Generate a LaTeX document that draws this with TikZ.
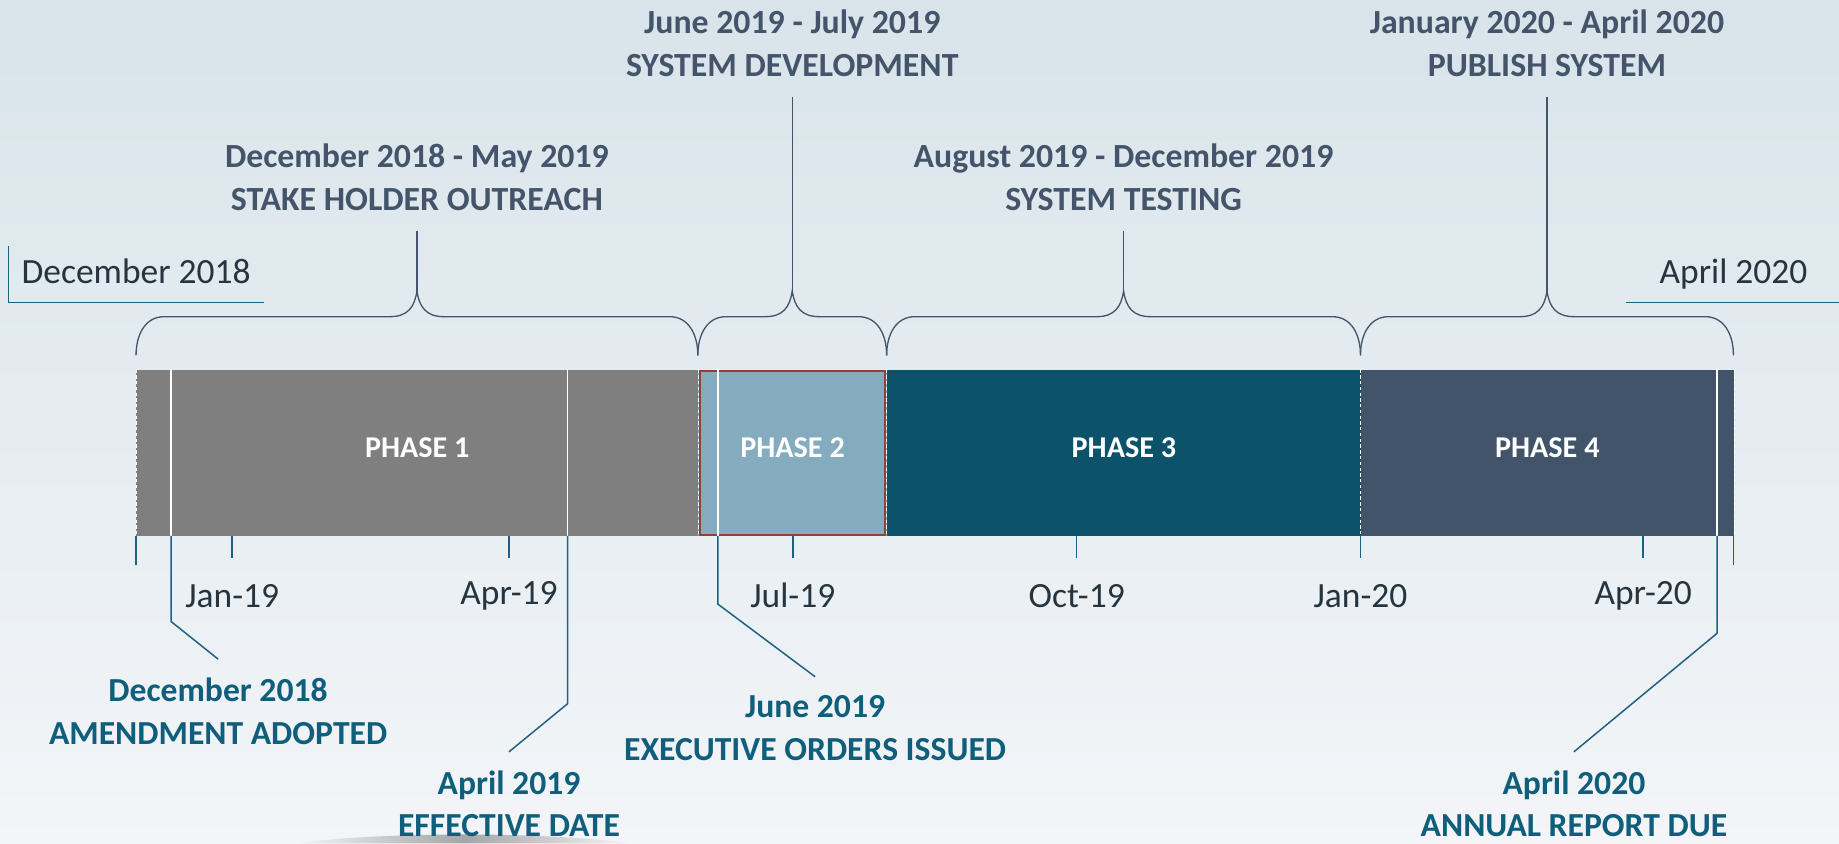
\documentclass[tikz,border=0pt]{standalone}
\usepackage{fontspec}
\setmainfont{Carlito}
\usepackage{xcolor}
\usetikzlibrary{positioning,calc}

\definecolor{bgtop}{HTML}{D8E4EA}
\definecolor{bgbot}{HTML}{F3F5F8}
\definecolor{slate}{HTML}{44546A}
\definecolor{evtteal}{HTML}{0F5E7B}
\definecolor{lineteal}{HTML}{1D6280}
\definecolor{ink}{HTML}{25343F}
\definecolor{phaseA}{HTML}{7F7F7F}
\definecolor{phaseB}{HTML}{85ABBE}
\definecolor{phaseC}{HTML}{0D526B}
\definecolor{phaseD}{HTML}{41546A}
\definecolor{rim}{HTML}{8B4436}

\begin{document}
\begin{tikzpicture}[x=0.025cm, y=-0.025cm,
    phasebox/.style={anchor=north west, inner sep=0, minimum height=142*0.025cm,
                     text=white, text depth=7pt, font=\bfseries\fontsize{18.3}{20}\selectfont},
    toplbl/.style={align=center, text=slate, anchor=south, inner ysep=17*0.025cm,
                   font=\bfseries\fontsize{20.5}{26.3}\selectfont},
    evtlbl/.style={align=center, text=evtteal, anchor=north, inner ysep=16*0.025cm,
                   font=\bfseries\fontsize{20.4}{25.6}\selectfont},
    ticklbl/.style={text=ink, font=\fontsize{21.5}{24}\selectfont},
    cornerlbl/.style={text=ink, inner xsep=11*0.025cm, inner ysep=7pt,
                      text height=15.5pt, text depth=4.3pt,
                      font=\fontsize{21.5}{24}\selectfont},
    tick/.style={draw=lineteal, line width=0.9pt},
    callout/.style={draw=lineteal, line width=0.9pt},
    cut/.style={draw=white, line width=0.6pt, dash pattern=on 2pt off 1.5pt},
    pin/.style={draw=white, line width=0.9pt},
    bracepath/.style={draw=slate, line width=0.8pt}]
  \def\pxl{0.025cm}

  % backdrop
  \useasboundingbox (0,0) rectangle (1568,719);
  \shade[top color=bgtop, bottom color=bgbot] (0,0) rectangle (1568,719);
  \shade[left color=bgbot, right color=bgbot, middle color=gray!70]
    (250,719) .. controls (330,709) and (460,709) .. (540,719) -- cycle;

  % phase bar
  \node[phasebox, fill=phaseA, minimum width=479*\pxl] (p1) at (116,315) {PHASE 1};
  \node[phasebox, fill=phaseB, minimum width=161*\pxl] (p2) at (595,315) {PHASE 2};
  \node[phasebox, fill=phaseC, minimum width=404*\pxl] (p3) at (756,315) {PHASE 3};
  \node[phasebox, fill=phaseD, minimum width=318*\pxl] (p4) at (1160,315) {PHASE 4};
  \draw[rim, line width=1.2pt] ([xshift=2*\pxl, yshift=-1*\pxl]p2.north west)
    rectangle ([xshift=-2*\pxl, yshift=1*\pxl]p2.south east);

  \draw[cut] (p1.north west) -- (p1.south west);
  \draw[cut] (p1.north east) -- (p1.south east);
  \draw[cut] (p3.north west) -- (p3.south west);
  \draw[cut] (p4.north west) -- (p4.south west);
  \draw[cut] (p4.north east) -- (p4.south east);

  % month ticks
  \foreach \x/\txt in {198/Jan-19, 434/Apr-19, 676/Jul-19, 918/Oct-19, 1160/Jan-20, 1401/Apr-20}{
    \draw[tick] (\x,457) -- (\x,476);
    \node[ticklbl] at (\x,508) {\txt};
  }
  \draw[tick] (116,457) -- (116,482);
  \draw[tick] (1478,457) -- (1478,482);

  % braces over the phases
  \foreach \a/\b in {116/595, 595/756, 756/1160, 1160/1478}{
    \pgfmathsetmacro\m{(\a+\b)/2}
    \draw[bracepath] (\a,303) .. controls (\a,285) and (\a+8,270) .. (\a+24,270)
      -- (\m-23,270) .. controls (\m-8,270) and (\m-2,262) .. (\m,248)
      .. controls (\m+2,262) and (\m+8,270) .. (\m+23,270)
      -- (\b-24,270) .. controls (\b-8,270) and (\b,285) .. (\b,303);
  }
  \coordinate (tipA) at (355.5,248);
  \coordinate (tipB) at (675.5,248);
  \coordinate (tipC) at (958,248);
  \coordinate (tipD) at (1319,248);

  \node[toplbl] (outreach) at (355.5,197) {December 2018 - May 2019\\STAKE HOLDER OUTREACH};
  \node[toplbl] (develop) at (675.5,83) {June 2019 - July 2019\\SYSTEM DEVELOPMENT};
  \node[toplbl] (testing) at (958,197) {August 2019 - December 2019\\SYSTEM TESTING};
  \node[toplbl] (publish) at (1319,83) {January 2020 - April 2020\\PUBLISH SYSTEM};

  \draw[bracepath] (tipA) -- (outreach.south);
  \draw[bracepath] (tipB) -- (develop.south);
  \draw[bracepath] (tipC) -- (testing.south);
  \draw[bracepath] (tipD) -- (publish.south);

  % start and end dates
  \node[cornerlbl] (startlbl) at (116,234) {December 2018};
  \draw[callout] (startlbl.north west) |- (startlbl.south east);
  \node[cornerlbl] (endlbl) at (1478,234) {April 2020};
  \coordinate (rightedge) at (1568,258);
  \draw[callout] ([xshift=-17*\pxl]endlbl.west |- rightedge) -- (rightedge);

  % milestones
  \coordinate (adoptpin) at (146,315);
  \coordinate (effectpin) at (484,315);
  \coordinate (orderspin) at (612,315);
  \coordinate (reportpin) at (1464,315);

  \node[evtlbl] (adopt) at (186,562) {December 2018\\AMENDMENT ADOPTED};
  \node[evtlbl] (effect) at (434,641) {April 2019\\EFFECTIVE DATE};
  \node[evtlbl] (orders) at (695,577) {June 2019\\EXECUTIVE ORDERS ISSUED};
  \node[evtlbl] (report) at (1342,641) {April 2020\\ANNUAL REPORT DUE};

  \draw[pin] (adoptpin) -- ++(0,142);
  \draw[pin] (effectpin) -- ++(0,142);
  \draw[pin] (orderspin) -- ++(0,142);
  \draw[pin] (reportpin) -- ++(0,142);

  \draw[callout] ([yshift=-142*\pxl]adoptpin) -- ++(0,73) -- (adopt.north);
  \draw[callout] ([yshift=-142*\pxl]effectpin) -- ++(0,143) -- (effect.north);
  \draw[callout] ([yshift=-142*\pxl]orderspin) -- ++(0,58) -- (orders.north);
  \draw[callout] ([yshift=-142*\pxl]reportpin) -- ++(0,83) -- (report.north);
\end{tikzpicture}
\end{document}
